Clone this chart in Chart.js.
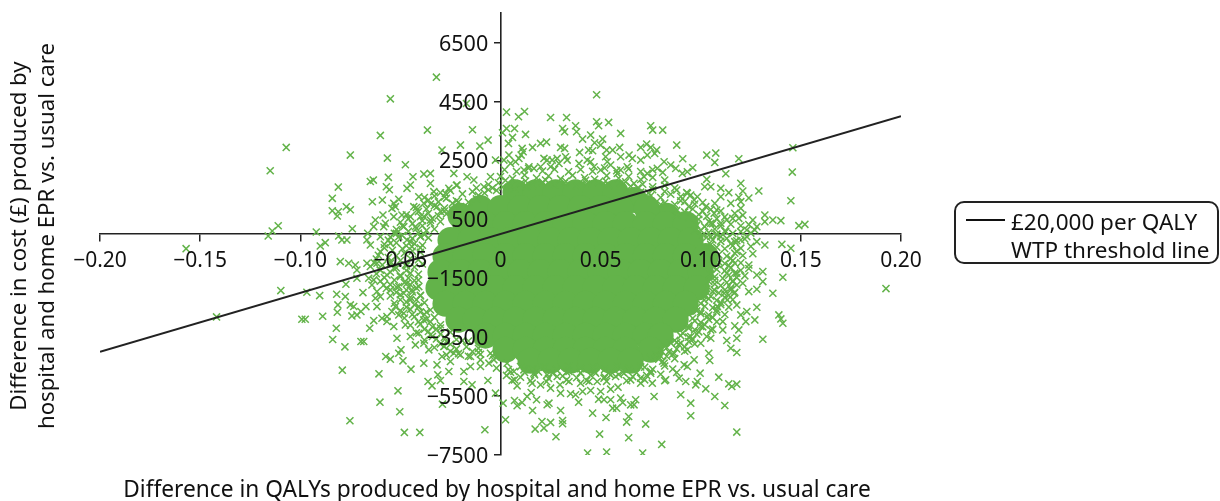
<!DOCTYPE html>
<html><head><meta charset="utf-8">
<script src="https://cdn.jsdelivr.net/npm/chart.js@4"></script>
<style>
html,body{margin:0;padding:0;background:#fff;width:1220px;height:501px;overflow:hidden}
#wrap{position:relative;width:1220px;height:501px;font-family:"Noto Sans",sans-serif;color:#111}
canvas{position:absolute;left:0;top:0}
.t{position:absolute;white-space:nowrap;font-size:22.5px;line-height:28px}
#xt{left:0;width:994px;text-align:center;top:475px;font-size:22.7px}
#yt{left:-218px;top:208px;width:500px;text-align:center;transform:rotate(-90deg);transform-origin:center;font-size:22.2px}
#leg{position:absolute;left:954px;top:201px;width:265px;height:63px;box-sizing:border-box;border:2px solid #222;border-radius:10px}
#sw{position:absolute;left:10px;top:16px;width:39px;height:2px;background:#111}
#lt{left:55px;top:5px}
</style></head><body>
<div id="wrap">
<canvas id="c" width="1220" height="501"></canvas>
<div class="t" id="xt">Difference in QALYs produced by hospital and home EPR vs. usual care</div>
<div class="t" id="yt">Difference in cost (£) produced by<br>hospital and home EPR vs. usual care</div>
<div id="leg"><div id="sw"></div><div class="t" id="lt">£20,000 per QALY<br>WTP threshold line</div></div>
</div>
<script>
const xTicks=[-0.2,-0.15,-0.1,-0.05,0,0.05,0.1,0.15,0.2];
const xTickLabels=['−0.20','−0.15','−0.10','−0.05','0','0.05','0.10','0.15','0.20'];
const yTicks=[-7500,-5500,-3500,-1500,500,2500,4500,6500];
const yTickLabels=['−7500','−5500','−3500','−1500','500','2500','4500','6500'];
const thresholdX=[-0.2,0.2];
const thresholdY=[-4000,4000];
// dense centre of the cloud: too many overlapping marks to read one by one
const densePoints=[
[.0075,1420],[.0175,1420],[.0275,1420],[.0375,1420],[.0475,1420],[.0575,1420],
[.067,1150],[.083,620],[-.02,620],
[-.01,880],[0,880],[.01,880],[.02,880],[.03,880],[.04,880],[.05,880],[.06,880],[.073,880],
[-.0175,340],[-.0075,340],[.0025,340],[.0125,340],[.0225,340],[.0325,340],[.0425,340],[.0525,340],[.0625,340],[.0725,340],[.0825,340],[.0925,340],
[-.025,-200],[-.015,-200],[-.005,-200],[.005,-200],[.015,-200],[.025,-200],[.035,-200],[.045,-200],[.055,-200],[.065,-200],[.075,-200],[.085,-200],[.095,-200],
[-.0275,-750],[-.0175,-750],[-.0075,-750],[.0025,-750],[.0125,-750],[.0225,-750],[.0325,-750],[.0425,-750],[.0525,-750],[.0625,-750],[.0725,-750],[.0825,-750],[.0925,-750],[.1025,-750],
[-.03,-1290],[-.02,-1290],[-.01,-1290],[0,-1290],[.01,-1290],[.02,-1290],[.03,-1290],[.04,-1290],[.05,-1290],[.06,-1290],[.07,-1290],[.08,-1290],[.09,-1290],[.1,-1290],
[-.031,-1830],[-.0225,-1830],[-.0125,-1830],[-.0025,-1830],[.0075,-1830],[.0175,-1830],[.0275,-1830],[.0375,-1830],[.0475,-1830],[.0575,-1830],[.0675,-1830],[.0775,-1830],[.0875,-1830],[.098,-1830],
[-.0275,-2370],[-.0175,-2370],[-.0075,-2370],[.0025,-2370],[.0125,-2370],[.0225,-2370],[.0325,-2370],[.0425,-2370],[.0525,-2370],[.0625,-2370],[.0725,-2370],[.0825,-2370],[.0925,-2370],
[-.021,-2910],[-.0125,-2910],[-.0025,-2910],[.0075,-2910],[.0175,-2910],[.0275,-2910],[.0375,-2910],[.0475,-2910],[.0575,-2910],[.0675,-2910],[.0775,-2910],[.0875,-2910],
[-.0075,-3450],[.0025,-3450],[.0125,-3450],[.0225,-3450],[.0325,-3450],[.0425,-3450],[.0525,-3450],[.0625,-3450],[.0725,-3450],[.08,-3450],
[.0025,-3930],[.0125,-3930],[.0225,-3930],[.0325,-3930],[.0425,-3930],[.0525,-3930],[.0625,-3930],[.075,-3930],
[.015,-4300],[.025,-4300],[.035,-4300],[.045,-4300],[.055,-4300],[.065,-4300]
];
const scatterPoints=[
[-.032,5322],[-.055,4587],[-.0365,3526],[-.06,3346],[-.014,3536],[-.107,2939],[-.115,2146],[-.075,2678],[-.0565,2576],[-.0475,2349],[-.081,1593],[-.084,1210],[-.084,790],[-.0815,610],[-.081,756],[-.077,925],[-.075,824],[-.111,281],[-.114,102],[-.116,-68],[-.092,68],[-.074,180],[-.157,-498],[-.0635,1830],[-.065,1780],[-.056,1922],[-.057,1604],[-.0555,1500],[-.064,1095],[-.059,1153],
[-.045,1661],[-.0467,1549],[-.0437,1944],[-.0383,2034],[-.035,2057],[-.0292,2848],[-.02,3018],[-.0103,2984],[-.0062,3187],[-.017,4430],[-.0233,2057],[-.0167,1944],[-.0133,1831],[-.0258,1549],[-.035,1718],[-.0333,1436],[-.0408,1266],[-.0383,1040],[-.0433,927],[-.0275,1379],[-.0217,1661],[-.0083,1605],[-.005,1944],[-.0025,2509],[-.0533,1040],[-.0542,870],[-.0525,927],[-.0508,1176],[-.0492,644],[-.0533,588],[-.0587,644],[-.0575,362],[-.0583,249],[-.0625,475],[-.0633,249],[-.0483,249],[-.053,23],[-.0663,23],[-.0667,-203],[-.065,-372],[-.06,-90],[-.055,-316],[-.09,-406],[-.0875,-293],[-.0808,-67],[-.0792,-203],[-.0767,-203],[-.045,588],[-.0417,814],[-.0383,588],[-.0425,249],[-.04,-90],[-.0467,-203],[-.0442,-429],[-.0508,-90],[-.0317,927],
[-.1418,-2813],[-.1097,-1921],[-.0967,-1977],[-.0903,-2090],[-.0992,-2892],[-.0975,-2892],[-.0888,-2791],[-.0818,-2045],[-.0775,-2124],[-.0812,-2406],[-.0815,-2655],[-.082,-3198],[-.0838,-3582],[-.0777,-3830],[-.079,-4621],[-.0697,-3650],[-.0683,-3650],[-.075,-2406],[-.0733,-2460],[-.0742,-2779],[-.0717,-2745],[-.0697,-2632],[-.0672,-2463],[-.0633,-2938],[-.0653,-3198],[-.0687,-1988],[-.0772,-1706],[-.08,-937],[-.0758,-994],[-.0725,-1051],[-.0717,-1220],[-.0717,-1503],[-.0667,-994],[-.0658,-1503],[-.0642,-1729],[-.0617,-1955],[-.0625,-2180],[-.0617,-2463],[-.0592,-2859],[-.0567,-2970],[-.0517,-3537],[-.0573,-4158],[-.055,-4248],[-.0607,-4746],[-.0497,-3932],[-.0508,-4045],[-.0487,-4305],[-.0447,-4587],[-.0512,-5322],[-.0602,-5706],[-.0503,-6034],[-.0752,-6339],[-.048,-6734],[-.0403,-6734],[-.0078,-6644],[-.029,-5774],[-.0362,-5006],[-.0342,-5152],[-.03,-4972],[-.0313,-4780],[-.0258,-4666],[-.0183,-4666],[-.0183,-5006],[-.0142,-5119],[-.0063,-4972],[-.0025,-5401],
[-.015,-4497],[-.01,-4497],[-.0058,-4384],[-.0033,-4271],[-.0317,-4441],[-.0292,-4158],[-.0358,-3932],[-.0383,-3706],[-.0425,-3763],[-.045,-3480],[-.0408,-3367],[-.0475,-3084],[-.0533,-3141],[-.0542,-2632],[-.0567,-2802],[-.0508,-2745],[-.0483,-2689],[-.0525,-2463],[-.06,-2124],[-.0583,-1729],[-.055,-1898],[-.0508,-1785],[-.0483,-2011],[-.045,-2237],[-.0442,-1898],[-.0408,-2463],[-.0383,-2915],[-.035,-3423],[-.0283,-3819],[-.0233,-4045],[-.02,-4102],[-.015,-4158],[-.01,-4271],[-.005,-4045],[-.025,-4328],[-.0383,-4384],[-.0633,-1559],[-.06,-1220],[-.0567,-1390],[-.0533,-1164],[-.05,-1446],[-.0467,-1672],[-.0408,-1785],[-.0617,-994],[-.055,-937],[-.0475,-1051],
[.048,4724],[.003,4136],[.012,4159],[.009,3978],[.025,3955],[.033,3955],[.048,3809],[.049,3673],[.054,3786],[.031,3582],[.032,3470],[.0375,3673],[.038,3470],[.041,3221],[.06,3413],[.075,3673],[.076,3526],[.081,3526],[.003,3582],[.007,3582],[.006,3277],[.0125,3379],[.001,3436],[.004,3074],[.045,3357],[.051,3221],[.047,3097],[.05,3018],[.088,3018],[.016,2938],[.02,3074],[.023,3119],[.03,2938],[.032,2905],[.0395,2769],[.044,2848],[.046,2826],[.053,2848],[.056,2848],[.0595,2938],[.07,2938],[.073,3051],[.075,2938],[.078,2848],[.077,2735],[.103,2678],[.1075,2746],[.107,2430],[.119,2554],[.091,2554],[.146,2927],[.1457,2102],[.145,1130],[.1125,2046],[.096,2249],[.103,1854],[.12,1718],[.121,1458],[.129,1458],[.124,1221],[.114,1402],[.11,1549],[.105,1605],[.102,1605],[.11,1266],[.119,1243],[.12,1097],[.115,1040],[.107,1040],[.108,814],[.12,870],[.117,701],[.113,475],[.119,531],[.121,640],[.126,475],[.132,644],[.132,418],[.136,475],[.14,452],[.149,283],[.152,328],[.128,249],[.127,136],[.123,136],[.12,-203],[.123,-90],[.128,-260],[.132,-373],[.1405,-350],[.145,-485],[.117,-260],[.1125,80],[.108,-33],[.105,-90],[.101,-33],
[.0108,2905],[.0113,2791],[.0103,2678],[.0092,2565],[.0075,2452],[.005,2396],[.0042,2678],[.0017,2509],[.0217,2565],[.0233,2509],[.0258,2509],[.0283,2565],[.0325,2622],[.0333,2509],[.0292,2396],[.025,2283],[.02,2283],[.0167,2226],[.0142,2283],[.0117,2170],[.0392,2396],[.0433,2509],[.045,2452],[.0467,2283],[.0525,2622],[.0533,2452],[.055,2340],[.06,2622],[.0642,2678],[.0658,2565],[.07,2509],[.0733,2678],[.0783,2227],[.0817,2453],[.085,2340],[.0875,2227],[.0908,2057],[.0933,2113],[.0733,2057],[.0717,1944],[.0667,1718],[.0633,2283],[.06,2170],[.0583,2057],[.05,2170],[.0933,1379],[.0983,1266],[.0967,1153],[.1025,927],[.1067,701],[.105,362],[.11,362],
[.1925,-1853],[.141,-1469],[.136,-2011],[.139,-2746],[.14,-2881],[.141,-3028],[.131,-3570],[.128,-2486],[.123,-2633],[.127,-2915],[.1225,-2972],[.12,-2746],[.128,-1875],[.124,-1955],[.131,-1616],[.131,-1277],[.128,-1390],[.121,-1672],[.116,-1616],[.124,-1051],[.117,-994],[.113,-1333],[.118,-1333],[.115,-1898],[.118,-2407],[.117,-3118],[.119,-3254],[.118,-3537],[.113,-3616],[.115,-3876],[.118,-4022],[.111,-2972],[.111,-3254],[.105,-3537],[.104,-4045],[.1045,-4294],[.0997,-4723],[.109,-4859],[.114,-5085],[.118,-5096],[.1155,-5175],[.1025,-5254],[.107,-5514],[.112,-5819],[.09,-5457],[.095,-5740],[.095,-6169],[.118,-6723],[.0805,-7141],[.071,-7435],[.053,-7401],[.0435,-7435],[.064,-6915],[.0495,-6791],[.0277,-6881],[.0173,-6621],[.0217,-6587],[.0207,-6362],[.025,-6395],[.031,-6328],[.031,-6441],[.0025,-6305],[.016,-5989],[.03,-5989],[.046,-6079],[.0527,-6226],[.063,-6384],[.064,-6192],[.0725,-6452],[.0767,-5514],[.0233,-5796],[.0242,-5740],[.0083,-5830],[.0108,-5717],[.007,-5650],[.018,-5627],[.0133,-5514],[.0153,-5378],[.0013,-5740],[.039,-5706],[.049,-5604],[.0517,-5627],[.055,-5627],[.056,-5910],[.058,-5910],[.06,-5570],[.061,-5717],[.065,-5797],[.0675,-5627],[.0667,-5797],[.03,-5401],[.035,-5423],[.0375,-5457],[.041,-5345],[.045,-5311],[.05,-5345],[.055,-5265],[.0587,-5198],[.0083,-5152],[.0058,-4972],[.0158,-5062],[.02,-5119],[.025,-5232],
[.0297,-5119],[.0342,-5006],[.04,-5062],[.0442,-5006],[.0483,-5006],[.0517,-4893],[.0575,-4836],[.065,-4949],[.07,-5062],[.0758,-5062],[.0825,-4949],[.0892,-4893],[.0925,-5006],[.0983,-5006],[.0975,-5119],[.0917,-4441],[.0933,-4497],[.0967,-4271],[.0933,-3932],[.1,-3706],[.105,-3254],[.1083,-2463],[.1133,-2237],[.1067,-1898],[.1167,-2011],[.1117,-2011],[.1017,-2237],[.1033,-2802],[.1,-3141],[.095,-3480],[.09,-3706],[.0867,-4045],[.0817,-4384],[.075,-4723],[.07,-4893],[.0617,-4723],[.055,-4780],[.0475,-4723],[.04,-4723],[.0342,-4667],[.0283,-4836],[.0233,-4780],[.0167,-4723],[.0117,-4610],[.0067,-4667],[.0033,-4384],
[-.03,1400],[-.025,1470],[-.019,1360],[-.014,1440],[-.008,1390],[-.002,1480],
[-.036,1150],[-.031,1090],[-.027,1210],[-.022,1130],[-.016,1080],[-.012,1190],
[-.042,900],[-.037,850],[-.033,960],[-.028,880],[-.024,810],[-.02,930],
[-.047,650],[-.04,590],[-.036,700],[-.031,620],[-.027,680],
[-.05,400],[-.044,350],[-.039,450],[-.035,370],[-.03,420],
[-.052,150],[-.046,90],[-.042,190],[-.037,120],[-.033,170],
[-.055,-100],[-.049,-50],[-.044,-150],[-.04,-80],[-.036,-130],
[-.058,-350],[-.052,-300],[-.047,-400],[-.043,-330],[-.039,-380],
[-.06,-600],[-.054,-550],[-.048,-650],[-.044,-580],[-.04,-620],
[-.062,-850],[-.056,-800],[-.05,-900],[-.045,-830],[-.041,-870],
[-.065,-1100],[-.059,-1050],[-.052,-1150],[-.047,-1080],[-.043,-1120],
[-.062,-1350],[-.055,-1300],[-.05,-1400],[-.045,-1330],[-.041,-1370],
[-.06,-1600],[-.053,-1560],[-.048,-1650],[-.043,-1580],
[-.057,-1850],[-.052,-1800],[-.047,-1900],[-.042,-1830],
[-.055,-2100],[-.05,-2060],[-.045,-2150],[-.04,-2080],
[-.053,-2350],[-.047,-2310],[-.043,-2400],[-.038,-2330],
[-.05,-2600],[-.045,-2560],[-.04,-2650],[-.035,-2580],
[-.048,-2850],[-.043,-2810],[-.037,-2900],[-.033,-2830],
[-.045,-3100],[-.04,-3060],[-.034,-3150],[-.03,-3080],
[-.042,-3350],[-.036,-3310],[-.03,-3400],[-.025,-3330],
[-.038,-3600],[-.032,-3560],[-.027,-3650],[-.022,-3580],[-.016,-3630],
[-.033,-3850],[-.028,-3810],[-.022,-3900],[-.017,-3830],[-.011,-3880],
[-.027,-4100],[-.021,-4060],[-.016,-4150],[-.01,-4080],[-.004,-4130],
[.075,1300],[.08,1240],[.085,1350],[.09,1270],[.095,1320],
[.082,1050],[.087,1000],[.092,1100],[.097,1020],[.101,1070],
[.088,800],[.092,750],[.096,850],[.101,770],[.105,830],[.11,780],
[.094,550],[.099,500],[.103,600],[.108,520],[.112,580],[.116,530],
[.098,300],[.102,250],[.106,350],[.11,270],[.115,330],[.12,280],[.124,320],
[.104,50],[.108,0],[.112,100],[.116,20],[.12,80],[.125,30],
[.106,-200],[.11,-250],[.113,-150],[.118,-230],[.122,-170],
[.108,-450],[.112,-500],[.116,-400],[.12,-480],[.125,-420],
[.109,-700],[.113,-750],[.117,-650],[.121,-730],[.126,-670],
[.109,-950],[.112,-1000],[.116,-900],[.12,-980],
[.108,-1200],[.112,-1250],[.115,-1150],[.12,-1230],[.124,-1170],
[.107,-1450],[.111,-1500],[.114,-1400],[.118,-1480],[.122,-1420],
[.107,-1700],[.11,-1750],[.113,-1650],[.118,-1730],
[.106,-1950],[.109,-2000],[.112,-1900],[.117,-1980],
[.104,-2200],[.108,-2250],[.112,-2150],[.116,-2230],
[.102,-2450],[.106,-2500],[.11,-2400],[.114,-2480],
[.1,-2700],[.104,-2750],[.108,-2650],[.112,-2730],
[.097,-2950],[.1,-3000],[.104,-2900],[.108,-2980],
[.094,-3200],[.097,-3250],[.101,-3150],[.106,-3230],
[.09,-3450],[.094,-3500],[.098,-3400],[.103,-3480],
[.085,-3700],[.089,-3750],[.094,-3650],[.097,-3730],
[.08,-3950],[.084,-4000],[.088,-3900],[.092,-3980],
[.075,-4200],[.079,-4250],[.083,-4150],[.087,-4230],
[0,1950],[.006,1880],[.012,2000],[.018,1900],[.024,1970],[.03,1870],[.036,1990],[.042,1910],[.047,1860],[.053,1980],[.059,1890],[.064,1950],[.07,1850],[.076,1920],[.082,1830],
[-.006,1680],[-.001,1740],[.005,1640],[.01,1710],[.016,1650],[.021,1760],[.027,1670],[.032,1730],[.038,1640],[.043,1700],[.049,1760],[.054,1650],[.06,1720],[.065,1620],[.071,1690],[.076,1600],[.082,1650],[.087,1560],
[-.002,-4550],[.004,-4600],[.01,-4500],[.016,-4580],[.022,-4520],[.028,-4610],[.034,-4490],[.04,-4570],[.046,-4530],[.052,-4600],[.058,-4500],[.064,-4570],[.07,-4510],[.076,-4590],[.082,-4480],
[.003,-4800],[.01,-4860],[.017,-4780],[.024,-4900],[.031,-4820],[.038,-4880],[.045,-4790],[.052,-4850],[.059,-4770],[.066,-4840],[.073,-4800],[.08,-4760],
[.002,2180],[.008,2120],[.014,2230],[.021,2140],[.027,2200],[.034,2110],[.04,2190],[.046,2130],[.052,2240],[.058,2150],[.064,2210],[.07,2120],[.076,2180],[.081,2090],
[-.012,1560],[-.006,1500],[.001,1590],[.007,1530],[.013,1600],[.07,1420],[.076,1500],[.082,1440],[.088,1490],[.093,1410],
[-.022,1650],[-.028,1260],[-.035,1020],[-.041,760],[-.046,520],[-.049,280],[-.052,20],[-.056,-210],[-.058,-470],[-.061,-720],[-.063,-980],[-.06,-1230],[-.058,-1480],[-.055,-1720],[-.052,-1980],[-.05,-2230],[-.047,-2480],[-.044,-2730],[-.041,-2980],[-.038,-3230],[-.034,-3480],[-.03,-3730],[-.025,-3980],
[-.038,1240],[-.033,1290],[-.024,1040],[-.03,760],[-.034,530],[-.039,280],[-.041,30],[-.045,-260],[-.049,-500],[-.052,-740],[-.055,-1000],[-.047,-1240],[-.046,-1490],[-.045,-1720],[-.044,-1970],[-.042,-2230],[-.041,-2480],[-.038,-2730],[-.035,-2980],[-.032,-3230],[-.028,-3510],[-.025,-3740],[-.014,-3990],
[.09,1130],[.094,930],[.099,660],[.104,420],[.107,170],[.11,-90],[.115,-330],[.118,-590],[.115,-830],[.114,-1070],[.117,-1330],[.116,-1590],[.115,-1830],[.114,-2080],[.11,-2330],[.108,-2570],[.106,-2830],[.102,-3080],[.099,-3320],[.096,-3580],[.092,-3830],[.086,-4080],[.081,-4320],
[.1,130],[.103,-110],[.105,-360],[.105,-610],[.106,-860],[.106,-1110],[.105,-1360],[.104,-1610],[.103,-1860],[.102,-2110],[.1,-2360],[.098,-2610],[.096,-2860],[.094,-3110],[.091,-3360],[.087,-3610],[.083,-3860],[.078,-4110],
[.005,-4690],[.012,-4700],[.019,-4680],[.026,-4720],[.033,-4690],[.04,-4710],[.047,-4680],[.054,-4720],[.061,-4690],[.068,-4710],[.075,-4660],[.007,-4950],[.015,-4980],[.023,-5010],[.033,-4950],[.043,-4970],[.053,-5000],[.063,-4980],[.072,-4950],[.082,-4980],[.088,-4700],[.086,-4580],
[.0025,1820],[.0125,1800],[.0225,1830],[.0325,1790],[.0425,1820],[.0525,1800],[.0625,1770],[.0685,1560],[.074,1400],[-.004,1560],[-.011,1310],[-.021,1090],[-.028,780],[-.035,470],[-.038,-20],[-.04,-470],[-.039,-1020],[-.041,-1560],[-.04,-2100],[-.037,-2650],[-.03,-3190],[-.019,-3620],[-.011,-4020],
[.08,1000],[.088,640],[.097,120],[.1025,-440],[.1085,-1030],[.107,-1570],[.105,-2110],[.1,-2640],[.094,-3180],[.088,-3680],[.08,-4150],[.072,-4520]
];
const toXY=p=>({x:p[0],y:p[1]});
new Chart(document.getElementById('c'),{
  type:'scatter',
  data:{datasets:[
    {type:'line',label:'£20,000 per QALY WTP threshold line',data:thresholdX.map((x,i)=>({x,y:thresholdY[i]})),borderColor:'#222',borderWidth:2,pointRadius:0,fill:false,order:0},
    {label:'Simulated differences',data:scatterPoints.map(toXY),pointStyle:'crossRot',pointRadius:5,pointBorderColor:'#63b34a',pointBorderWidth:1.5,showLine:false,order:1},
    {label:'Dense centre',data:densePoints.map(toXY),pointStyle:'circle',pointRadius:13,pointBackgroundColor:'#63b34a',pointBorderWidth:0,showLine:false,order:2}
  ]},
  options:{
    responsive:false,animation:false,
    layout:{padding:{left:100,right:319,top:12,bottom:46}},
    plugins:{legend:{display:false},tooltip:{enabled:false}},
    scales:{
      x:{type:'linear',min:-0.2,max:0.2,position:{y:0},
        afterBuildTicks:a=>{a.ticks=xTicks.map(v=>({value:v}));},
        border:{display:true,color:'#222',width:1.6},
        grid:{drawOnChartArea:false,drawTicks:true,tickLength:7,color:'#222',lineWidth:1.5},
        ticks:{z:1,autoSkip:false,maxRotation:0,padding:7,color:'#111',font:{family:'"Noto Sans"',size:21},
          callback:v=>xTickLabels[xTicks.indexOf(v)]}},
      y:{type:'linear',min:-7500,max:7500,position:{x:0},
        afterBuildTicks:a=>{a.ticks=yTicks.map(v=>({value:v}));},
        border:{display:true,color:'#222',width:1.6},
        grid:{drawOnChartArea:false,drawTicks:true,tickLength:6,color:'#222',lineWidth:1.5},
        ticks:{z:1,autoSkip:false,padding:0,labelOffset:2,color:'#111',font:{family:'"Noto Sans"',size:21.5},
          callback:v=>yTickLabels[yTicks.indexOf(v)]+'\u2007'}}
    }
  }
});
</script>
</body></html>
